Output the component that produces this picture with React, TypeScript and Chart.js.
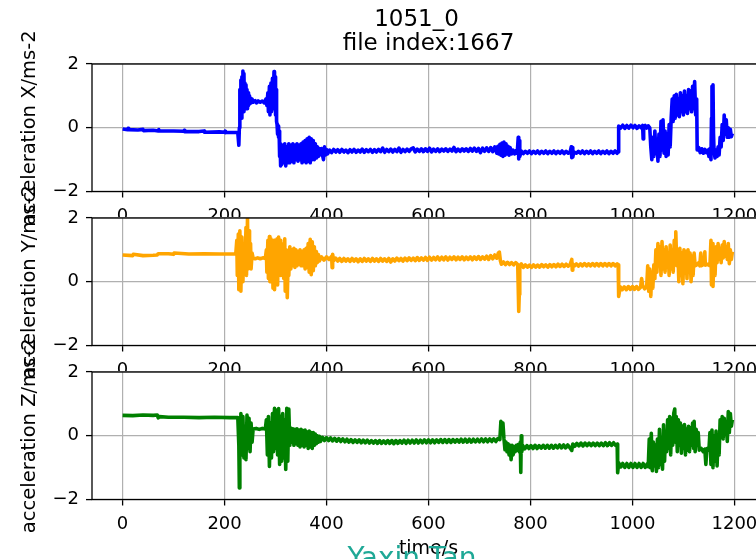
import React, { useEffect, useRef } from 'react';
import { Chart, registerables } from 'chart.js';

Chart.register(...registerables);

// ---------- data ----------
const titleLines = ['1051_0', 'file index:1667'];
const xAxisLabel = 'time/s';
const yAxisLabels = ['acceleration X/ms-2', 'acceleration Y/ms-2', 'acceleration Z/ms-2'];
const xTickValues = [0, 200, 400, 600, 800, 1000, 1200];
const yTickValues = [-2, 0, 2];
const watermark = 'Yaxin Tan';

// [time s, acceleration]
const accelX: [number, number][] = [
  [0, -0.04], [10, -0.06], [11, -0.02], [12, -0.06], [30, -0.07], [40, -0.05], [41, -0.09], [60, -0.08],
  [70, -0.1], [71, -0.06], [72, -0.1], [100, -0.1], [120, -0.11], [121, -0.08], [122, -0.12], [150, -0.12],
  [160, -0.1], [161, -0.14], [190, -0.13], [200, -0.14], [201, -0.11], [202, -0.15], [226, -0.15],
  [228, -0.55], [229, 0.0], [230, 1.2], [231, 0.5], [232, 1.5], [233, 0.3], [234, 1.6], [235, 0.6],
  [236, 1.78], [237, 0.5], [238, 1.7], [239, 0.7], [240, 1.4], [241, 0.6], [242, 1.35], [243, 0.65],
  [244, 1.2], [245, 0.6], [246, 1.1], [247, 0.7], [248, 1.0], [249, 0.75], [250, 0.95], [252, 0.78],
  [254, 0.9], [256, 0.8], [260, 0.85], [263, 0.78], [266, 0.84], [270, 0.8], [274, 0.84], [278, 0.78],
  [281, 0.9], [283, 0.7], [285, 1.1], [286, 0.5], [288, 1.3], [289, 0.4], [291, 1.4], [292, 0.5],
  [294, 1.55], [295, 0.6], [297, 1.76], [298, 0.7], [299, 1.6], [300, 0.4], [301, 1.2], [302, 0.2],
  [303, 0.1], [304, -0.2], [305, 0.05], [306, -0.3], [307, -0.1], [308, -0.9], [309, -0.5], [310, -1.2],
  [311, -0.6], [312, -1.15], [314, -0.55], [316, -1.1], [318, -0.5], [320, -1.2], [322, -0.6], [324, -1.1],
  [326, -0.5], [328, -1.1], [330, -0.55], [332, -1.05], [334, -0.5], [336, -1.1], [338, -0.55], [340, -1.0],
  [342, -0.5], [344, -1.05], [346, -0.55], [348, -1.0], [350, -0.5], [352, -1.1], [354, -0.45], [356, -1.05],
  [358, -0.4], [360, -1.1], [362, -0.35], [364, -1.05], [366, -0.3], [368, -1.1], [370, -0.35], [372, -1.0],
  [374, -0.4], [376, -1.0], [378, -0.5], [380, -0.95], [382, -0.6], [384, -0.9], [386, -0.65], [388, -0.85],
  [390, -0.65], [392, -0.85], [394, -1.0], [396, -0.6], [398, -0.85], [400, -0.68], [402, -0.82], [406, -0.7],
  [410, -0.78], [414, -0.68], [418, -0.76], [422, -0.69], [426, -0.77], [430, -0.68], [434, -0.76], [438, -0.7],
  [442, -0.78], [446, -0.69], [450, -0.76], [454, -0.68], [458, -0.77], [462, -0.7], [466, -0.76], [470, -0.67],
  [474, -0.77], [478, -0.69], [482, -0.75], [486, -0.68], [490, -0.77], [494, -0.69], [498, -0.76], [502, -0.68],
  [506, -0.75], [510, -0.64], [514, -0.77], [518, -0.68], [522, -0.75], [526, -0.67], [530, -0.76], [534, -0.68],
  [538, -0.75], [542, -0.64], [546, -0.77], [550, -0.68], [554, -0.75], [558, -0.67], [562, -0.74], [566, -0.66],
  [570, -0.63], [574, -0.76], [578, -0.67], [582, -0.74], [586, -0.66], [590, -0.75], [594, -0.66], [598, -0.74],
  [602, -0.64], [606, -0.76], [610, -0.67], [614, -0.74], [618, -0.66], [622, -0.75], [626, -0.67], [630, -0.73],
  [634, -0.66], [638, -0.74], [642, -0.67], [646, -0.73], [650, -0.62], [654, -0.75], [658, -0.67], [662, -0.74],
  [666, -0.66], [670, -0.73], [674, -0.66], [678, -0.74], [682, -0.65], [686, -0.73], [690, -0.64], [694, -0.74],
  [698, -0.65], [702, -0.78], [706, -0.64], [710, -0.74], [714, -0.63], [718, -0.74], [722, -0.62], [726, -0.75],
  [730, -0.6], [734, -0.8], [736, -0.58], [738, -0.82], [740, -0.52], [742, -0.86], [744, -0.48], [746, -0.9],
  [748, -0.45], [750, -0.86], [752, -0.5], [754, -0.82], [756, -0.58], [758, -0.86], [760, -0.62], [763, -0.82],
  [766, -0.7], [769, -0.82], [772, -0.72], [774, -0.8], [776, -0.3], [777, -0.98], [778, -0.4], [779, -0.9],
  [782, -0.73], [786, -0.81], [790, -0.74], [794, -0.8], [798, -0.73], [802, -0.81], [806, -0.74], [810, -0.8],
  [814, -0.73], [818, -0.81], [822, -0.74], [826, -0.8], [830, -0.73], [834, -0.81], [838, -0.74], [842, -0.8],
  [846, -0.73], [850, -0.81], [854, -0.74], [858, -0.8], [862, -0.73], [866, -0.81], [870, -0.74], [874, -0.8],
  [878, -0.75], [880, -0.6], [881, -0.94], [882, -0.62], [883, -0.92], [885, -0.76], [890, -0.8], [894, -0.74],
  [898, -0.8], [902, -0.73], [906, -0.81], [910, -0.74], [914, -0.8], [918, -0.73], [922, -0.81], [926, -0.74],
  [930, -0.8], [934, -0.73], [938, -0.81], [942, -0.74], [946, -0.8], [950, -0.73], [954, -0.81], [958, -0.74],
  [962, -0.8], [966, -0.73], [970, -0.8], [972, -0.76], [973, 0.05], [977, -0.01], [981, 0.08], [985, -0.02],
  [989, 0.07], [993, -0.01], [997, 0.08], [1001, 0.0], [1005, 0.07], [1009, -0.02], [1013, 0.06], [1017, 0.0],
  [1020, 0.07], [1021, -0.35], [1022, 0.02], [1025, 0.07], [1028, -0.01], [1031, 0.06], [1034, 0.0],
  [1036, -0.6], [1038, -1.0], [1040, -0.3], [1042, -0.9], [1044, -0.1], [1046, -0.8], [1048, -0.4], [1050, -1.05],
  [1052, -0.2], [1054, -0.9], [1056, 0.2], [1058, -0.7], [1060, 0.25], [1062, -0.8], [1064, -0.1], [1066, -0.9],
  [1068, -0.2], [1070, -0.85], [1072, 0.1], [1074, -0.6], [1076, 0.3], [1078, 0.9], [1080, 0.2], [1082, 1.0],
  [1084, 0.3], [1086, 1.05], [1088, 0.4], [1090, 0.9], [1092, 0.35], [1094, 1.1], [1096, 0.5], [1098, 1.0],
  [1100, 0.4], [1102, 1.15], [1104, 0.5], [1106, 1.0], [1108, 0.45], [1110, 1.2], [1112, 0.6], [1114, 1.15],
  [1116, 0.5], [1118, 1.3], [1120, 0.6], [1122, 1.45], [1124, 0.4], [1126, 0.9], [1127, -0.7], [1130, -0.62],
  [1133, -0.78], [1136, -0.66], [1139, -0.8], [1142, -0.68], [1145, -0.78], [1148, -0.7], [1150, -0.9], [1152, -0.65],
  [1154, -1.0], [1155, 0.3], [1156, 1.3], [1157, 0.5], [1158, 1.35], [1159, -0.2], [1160, -0.7], [1162, -0.95],
  [1164, -0.7], [1166, -0.9], [1168, -0.6], [1170, -0.85], [1172, -0.3], [1174, -0.6], [1176, 0.1], [1178, -0.4],
  [1180, 0.4], [1182, -0.2], [1184, 0.25], [1186, -0.3], [1188, 0.0], [1190, -0.3], [1192, -0.05], [1194, -0.28],
  [1196, -0.18],
];

const accelY: [number, number][] = [
  [0, 0.84], [20, 0.82], [21, 0.86], [40, 0.82], [60, 0.83], [68, 0.84], [70, 0.88], [90, 0.88],
  [100, 0.86], [101, 0.9], [130, 0.87], [160, 0.88], [190, 0.87], [222, 0.87],
  [224, 1.3], [225, 0.2], [227, 1.5], [228, -0.25], [230, 1.6], [232, -0.3], [234, 1.4], [236, 0.0],
  [238, 1.2], [240, 0.3], [242, 1.7], [243, 0.2], [245, 1.99], [246, 0.4], [248, 1.6], [249, 0.5],
  [251, 1.2], [252, 0.4], [254, 0.9], [256, 0.74], [260, 0.72], [265, 0.75], [270, 0.72], [275, 0.75],
  [280, 0.73], [282, 1.0], [283, 0.3], [285, 1.3], [286, 0.1], [288, 1.42], [289, 0.0], [291, 1.35],
  [292, 0.3], [294, 1.2], [295, -0.2], [297, 1.3], [298, -0.25], [300, 1.1], [301, 0.2], [303, 1.35],
  [304, -0.1], [306, 1.4], [307, 0.3], [309, 1.3], [310, 0.2], [312, 1.2], [313, 0.4], [315, 1.1],
  [316, 0.1], [318, 1.35], [319, -0.3], [321, 1.0], [323, -0.5], [325, 0.9], [326, 0.2], [328, 1.1],
  [330, 0.4], [332, 1.0], [334, 0.5], [336, 1.05], [338, 0.45], [340, 1.0], [342, 0.5], [344, 0.95],
  [346, 0.55], [348, 1.0], [350, 0.5], [352, 0.95], [354, 0.5], [356, 1.0], [358, 0.4], [360, 1.05],
  [362, 0.45], [364, 1.2], [366, 0.3], [368, 1.33], [370, 0.22], [372, 1.25], [374, 0.35], [376, 1.1],
  [378, 0.5], [380, 0.95], [382, 0.6], [384, 0.85], [386, 0.65], [390, 0.78], [395, 0.68], [400, 0.78],
  [405, 0.7], [410, 0.8], [411, 0.44], [412, 0.86], [414, 0.66], [418, 0.74], [422, 0.65], [426, 0.73],
  [430, 0.64], [434, 0.73], [438, 0.65], [442, 0.72], [446, 0.64], [450, 0.73], [454, 0.65], [458, 0.72],
  [462, 0.63], [466, 0.72], [470, 0.64], [474, 0.73], [478, 0.65], [482, 0.72], [486, 0.64], [490, 0.73],
  [494, 0.65], [498, 0.72], [502, 0.64], [506, 0.73], [510, 0.65], [514, 0.72], [518, 0.64], [522, 0.73],
  [526, 0.62], [530, 0.72], [534, 0.65], [538, 0.74], [542, 0.66], [546, 0.73], [550, 0.65], [554, 0.74],
  [558, 0.66], [562, 0.75], [566, 0.67], [570, 0.74], [574, 0.66], [578, 0.76], [582, 0.67], [586, 0.75],
  [590, 0.68], [594, 0.76], [598, 0.67], [602, 0.77], [606, 0.68], [610, 0.76], [614, 0.69], [618, 0.78],
  [622, 0.68], [626, 0.77], [630, 0.69], [634, 0.78], [638, 0.68], [642, 0.77], [646, 0.7], [650, 0.78],
  [654, 0.69], [658, 0.77], [662, 0.7], [666, 0.78], [670, 0.69], [674, 0.77], [678, 0.7], [682, 0.78],
  [686, 0.69], [690, 0.78], [694, 0.7], [698, 0.79], [702, 0.7], [706, 0.78], [710, 0.71], [714, 0.8],
  [718, 0.7], [722, 0.82], [726, 0.72], [730, 0.84], [734, 0.74], [737, 0.9], [739, 0.93], [741, 0.66],
  [743, 0.55], [747, 0.62], [751, 0.54], [755, 0.61], [759, 0.54], [763, 0.6], [767, 0.53], [771, 0.6],
  [775, 0.54], [777, -0.93], [778, -0.4], [779, 0.5], [782, 0.56], [786, 0.45], [790, 0.53], [794, 0.46],
  [798, 0.52], [802, 0.45], [806, 0.53], [810, 0.46], [814, 0.52], [818, 0.46], [822, 0.54], [826, 0.47],
  [830, 0.53], [834, 0.46], [838, 0.54], [842, 0.47], [846, 0.54], [850, 0.47], [854, 0.55], [858, 0.48],
  [862, 0.55], [866, 0.48], [870, 0.55], [874, 0.49], [878, 0.55], [881, 0.7], [882, 0.36], [883, 0.56],
  [886, 0.49], [890, 0.56], [894, 0.49], [898, 0.56], [902, 0.5], [906, 0.57], [910, 0.5], [914, 0.56],
  [918, 0.5], [922, 0.57], [926, 0.5], [930, 0.57], [934, 0.5], [938, 0.57], [942, 0.5], [946, 0.57],
  [950, 0.5], [954, 0.57], [958, 0.5], [962, 0.57], [966, 0.5], [970, 0.56], [972, 0.53], [973, -0.46],
  [976, -0.16], [980, -0.25], [984, -0.16], [988, -0.25], [992, -0.15], [996, -0.24], [1000, -0.15], [1004, -0.24],
  [1008, -0.15], [1012, -0.24], [1016, -0.17], [1018, 0.1], [1020, -0.12], [1024, -0.22], [1028, -0.15],
  [1030, 0.5], [1032, -0.3], [1034, 0.4], [1036, -0.46], [1038, 0.3], [1040, -0.2], [1042, 0.53], [1044, 0.1],
  [1046, 1.0], [1048, 0.3], [1050, 1.2], [1052, 0.5], [1054, 1.1], [1056, 0.2], [1058, 1.26], [1060, 0.4],
  [1062, 1.0], [1064, 0.3], [1066, 1.1], [1068, 0.5], [1070, 0.9], [1072, 0.2], [1074, 1.15], [1076, 0.4],
  [1078, 1.0], [1080, 0.3], [1082, 1.3], [1084, 0.6], [1085, 1.57], [1087, 0.5], [1089, 1.0], [1091, 0.0],
  [1093, 1.05], [1095, 0.2], [1097, 0.9], [1099, -0.06], [1101, 1.0], [1103, 0.3], [1105, 0.95], [1107, 0.1],
  [1109, 1.0], [1111, 0.4], [1113, 0.9], [1115, 0.0], [1117, 0.8], [1119, 0.2], [1121, 0.9], [1123, 0.5],
  [1126, 0.53], [1130, 0.6], [1132, 0.5], [1134, 0.9], [1135, 0.5], [1140, 0.55], [1142, 0.94], [1143, 0.52],
  [1148, 0.55], [1152, 0.5], [1154, 1.3], [1155, -0.1], [1157, 1.2], [1158, -0.15], [1160, 0.9], [1162, 0.2],
  [1164, 1.1], [1166, 0.6], [1168, 1.2], [1170, 0.7], [1172, 1.05], [1174, 0.6], [1176, 1.15], [1178, 0.75],
  [1180, 1.26], [1182, 0.8], [1184, 1.1], [1186, 0.7], [1188, 1.2], [1190, 0.57], [1192, 1.0], [1194, 0.7],
  [1196, 0.94],
];

const accelZ: [number, number][] = [
  [0, 0.64], [20, 0.63], [40, 0.65], [60, 0.64], [68, 0.65], [70, 0.56], [72, 0.6], [90, 0.58],
  [120, 0.58], [150, 0.57], [180, 0.58], [210, 0.57], [226, 0.57], [228, -0.3], [229, -1.64], [230, 0.0],
  [231, -0.6], [232, 0.7], [234, -0.5], [236, 0.6], [238, -0.7], [240, 0.3], [242, -0.75], [244, 0.65],
  [246, -0.4], [248, 0.55], [250, -0.5], [252, 0.4], [254, -0.2], [256, 0.21], [262, 0.23], [268, 0.2],
  [274, 0.23], [280, 0.21], [282, 0.5], [284, -0.6], [286, 0.6], [288, -0.96], [290, 0.4], [292, -0.7],
  [294, 0.7], [296, -0.5], [298, 0.86], [300, -0.4], [302, 0.8], [304, -0.6], [306, 0.85], [308, -0.9],
  [310, 0.6], [312, -0.8], [314, 0.7], [316, -0.7], [318, 0.5], [320, -1.06], [322, 0.86], [324, -0.8],
  [326, 0.84], [328, -0.3], [330, 0.24], [332, -0.2], [334, 0.22], [336, -0.3], [338, 0.2], [340, -0.25],
  [342, 0.22], [344, -0.3], [346, 0.18], [348, -0.35], [350, 0.2], [352, -0.3], [354, 0.16], [356, -0.35],
  [358, 0.18], [360, -0.3], [362, 0.12], [364, -0.4], [366, 0.15], [368, -0.35], [370, 0.1], [372, -0.4],
  [374, 0.1], [376, -0.3], [378, 0.05], [380, -0.25], [382, 0.0], [384, -0.2], [386, -0.02], [388, -0.18],
  [392, -0.05], [396, -0.15], [400, -0.06], [404, -0.15], [408, -0.07], [412, -0.16], [416, -0.08], [420, -0.17],
  [424, -0.09], [428, -0.18], [432, -0.1], [436, -0.19], [440, -0.11], [444, -0.2], [448, -0.12], [452, -0.21],
  [456, -0.13], [460, -0.21], [464, -0.13], [468, -0.22], [472, -0.14], [476, -0.22], [480, -0.14], [484, -0.23],
  [488, -0.15], [492, -0.23], [496, -0.15], [500, -0.24], [504, -0.15], [508, -0.24], [512, -0.16], [516, -0.24],
  [520, -0.15], [524, -0.24], [528, -0.15], [532, -0.25], [536, -0.15], [540, -0.24], [544, -0.15], [548, -0.23],
  [552, -0.14], [556, -0.24], [560, -0.14], [564, -0.23], [568, -0.14], [572, -0.23], [576, -0.13], [580, -0.23],
  [584, -0.14], [588, -0.22], [592, -0.13], [596, -0.22], [600, -0.13], [604, -0.22], [608, -0.13], [612, -0.22],
  [616, -0.13], [620, -0.21], [624, -0.12], [628, -0.21], [632, -0.12], [636, -0.21], [640, -0.12], [644, -0.21],
  [648, -0.12], [652, -0.2], [656, -0.12], [660, -0.2], [664, -0.11], [668, -0.2], [672, -0.11], [676, -0.2],
  [680, -0.11], [684, -0.2], [688, -0.11], [692, -0.19], [696, -0.11], [700, -0.19], [704, -0.1], [708, -0.19],
  [712, -0.1], [716, -0.19], [720, -0.1], [724, -0.18], [728, -0.1], [732, -0.18], [736, -0.09], [740, -0.12],
  [742, 0.45], [744, 0.2], [746, 0.4], [748, -0.1], [750, -0.44], [752, -0.2], [754, -0.5], [756, -0.25],
  [758, -0.6], [760, -0.3], [762, -0.75], [764, -0.3], [766, -0.6], [768, -0.35], [770, -0.5], [772, -0.3],
  [774, -0.45], [776, -0.28], [778, -0.5], [780, -0.2], [781, -1.15], [782, 0.0], [783, -0.5], [785, -0.31],
  [789, -0.41], [793, -0.31], [797, -0.4], [801, -0.31], [805, -0.4], [809, -0.3], [813, -0.4], [817, -0.31],
  [821, -0.39], [825, -0.3], [829, -0.39], [833, -0.3], [837, -0.39], [841, -0.3], [845, -0.39], [849, -0.3],
  [853, -0.38], [857, -0.29], [861, -0.38], [865, -0.29], [869, -0.38], [873, -0.29], [877, -0.37], [881, -0.46],
  [883, -0.26], [887, -0.33], [891, -0.24], [895, -0.32], [899, -0.23], [903, -0.32], [907, -0.23], [911, -0.31],
  [915, -0.23], [919, -0.31], [923, -0.23], [927, -0.31], [931, -0.23], [935, -0.31], [939, -0.23], [943, -0.31],
  [947, -0.22], [951, -0.31], [955, -0.22], [959, -0.3], [963, -0.22], [967, -0.3], [970, -0.26], [971, -1.16],
  [973, -0.85], [977, -0.98], [981, -0.87], [985, -0.99], [989, -0.87], [993, -0.99], [997, -0.87], [1001, -0.99],
  [1005, -0.87], [1009, -0.99], [1013, -0.87], [1017, -0.99], [1021, -0.87], [1025, -0.99], [1029, -0.88], [1031, -0.97],
  [1033, -0.1], [1035, -1.0], [1037, 0.08], [1039, -1.1], [1041, -0.2], [1043, -0.95], [1045, -0.3], [1047, -1.12],
  [1049, -0.1], [1051, -1.0], [1053, 0.2], [1055, -0.9], [1057, -0.15], [1059, -1.05], [1061, 0.34], [1063, -0.8],
  [1065, 0.1], [1067, -0.5], [1069, 0.5], [1071, -0.4], [1073, 0.6], [1075, -0.6], [1077, 0.55], [1079, -0.3],
  [1081, 0.7], [1083, 0.84], [1084, -0.2], [1086, 0.6], [1088, -0.5], [1090, 0.5], [1092, -0.3], [1094, 0.4],
  [1096, -0.55], [1098, 0.3], [1100, -0.4], [1102, 0.35], [1104, -0.6], [1106, 0.2], [1108, -0.45], [1110, 0.3],
  [1112, -0.5], [1114, 0.25], [1116, -0.3], [1118, 0.4], [1120, -0.4], [1121, 0.45], [1123, -0.5], [1125, 0.2],
  [1127, -0.3], [1129, 0.1], [1131, -0.45], [1135, -0.4], [1139, -0.5], [1142, -0.42], [1144, -0.9], [1146, -0.4],
  [1150, -0.45], [1152, 0.1], [1154, -0.9], [1156, 0.18], [1158, -1.0], [1160, 0.0], [1162, -0.8], [1164, 0.15],
  [1166, -0.95], [1168, -0.1], [1170, -0.6], [1172, 0.5], [1174, 0.0], [1176, 0.6], [1178, -0.1], [1180, 0.55],
  [1182, 0.05], [1184, 0.4], [1186, -0.18], [1188, 0.76], [1190, 0.1], [1192, 0.7], [1194, 0.3], [1196, 0.5],
];

const seriesList = [accelX, accelY, accelZ];

// ---------- layout / style ----------
const FONT = '"DejaVu Sans", "Liberation Sans", sans-serif';
const CW = 800;
const CH = 559;
const AREA_LEFT = 92;
const AREA_RIGHT = 765;
const panelStyles = [
  { top: 64, bottom: 191.5, xh: 40, color: '#0000ff', showXTitle: false },
  { top: 218, bottom: 345.5, xh: 40, color: '#ffa500', showXTitle: false },
  { top: 372, bottom: 499.5, xh: 59.5, color: '#008000', showXTitle: true },
];

const fmt = (v: number | string) => {
  const n = Number(v);
  return n < 0 ? '\u2212' + Math.abs(n) : String(n);
};

const bgPlugin = {
  id: 'areaBg',
  beforeDraw(chart: any) {
    const { ctx, chartArea: a } = chart;
    ctx.save();
    ctx.fillStyle = '#ffffff';
    ctx.fillRect(a.left, a.top, a.right - a.left, a.bottom - a.top);
    ctx.restore();
  },
};

const framePlugin = {
  id: 'frame',
  afterDatasetsDraw(chart: any) {
    const { ctx, chartArea: a } = chart;
    ctx.save();
    ctx.strokeStyle = '#000';
    ctx.lineWidth = 1.3;
    ctx.strokeRect(a.left, a.top, a.right - a.left, a.bottom - a.top);
    ctx.restore();
  },
};

const titlePlugin = {
  id: 'figTitle',
  afterDraw(chart: any) {
    const { ctx, chartArea: a } = chart;
    const cx = (a.left + a.right) / 2;
    ctx.save();
    ctx.fillStyle = '#000';
    ctx.font = `23px ${FONT}`;
    ctx.textAlign = 'center';
    ctx.textBaseline = 'middle';
    ctx.fillText(titleLines[0], cx - 12, 20);
    ctx.fillText(titleLines[1], cx, 44);
    ctx.restore();
  },
};

const watermarkPlugin = {
  id: 'watermark',
  afterDraw(chart: any) {
    const { ctx } = chart;
    ctx.save();
    ctx.fillStyle = '#1fa896';
    ctx.font = `28px ${FONT}`;
    ctx.textAlign = 'center';
    ctx.textBaseline = 'alphabetic';
    ctx.fillText(watermark, 412, 567);
    ctx.restore();
  },
};

function Panel({ index }: { index: number }) {
  const ref = useRef<HTMLCanvasElement | null>(null);
  useEffect(() => {
    const canvas = ref.current;
    if (!canvas) return;
    const p = panelStyles[index];
    const extra: any[] = [bgPlugin, framePlugin];
    if (index === 0) extra.push(titlePlugin);
    if (index === 2) extra.push(watermarkPlugin);
    const chart = new Chart(canvas, {
      type: 'line',
      data: {
        datasets: [
          {
            data: seriesList[index].map(([x, y]) => ({ x, y })),
            borderColor: p.color,
            backgroundColor: p.color,
            borderWidth: 3.6,
            pointRadius: 0,
            tension: 0,
            fill: false,
            borderJoinStyle: 'round',
            borderCapStyle: 'butt',
          } as any,
        ],
      },
      options: {
        responsive: false,
        animation: false,
        devicePixelRatio: 1,
        events: [],
        layout: {
          padding: { left: 0, right: CW - AREA_RIGHT, top: p.top, bottom: CH - p.bottom - p.xh },
        },
        plugins: { legend: { display: false }, tooltip: { enabled: false }, title: { display: false } },
        scales: {
          x: {
            type: 'linear',
            min: -60,
            max: 1260,
            afterBuildTicks: (s: any) => {
              s.ticks = xTickValues.map((v) => ({ value: v }));
            },
            afterFit: (s: any) => {
              s.height = p.xh;
            },
            grid: { color: '#b0b0b0', lineWidth: 1.2, tickLength: 6, tickColor: '#000', tickWidth: 1.3 },
            border: { display: false },
            ticks: {
              color: '#000',
              font: { family: FONT, size: 18 },
              padding: 8,
              maxRotation: 0,
              autoSkip: false,
              callback: (v: any) => fmt(v),
            },
            title: {
              display: p.showXTitle,
              text: xAxisLabel,
              color: '#000',
              font: { family: FONT, size: 19, lineHeight: 1.0 },
              padding: { top: 0, bottom: 0 },
            },
          },
          y: {
            min: -2,
            max: 2,
            afterBuildTicks: (s: any) => {
              s.ticks = yTickValues.map((v) => ({ value: v }));
            },
            afterFit: (s: any) => {
              s.width = AREA_LEFT;
            },
            grid: { color: '#b0b0b0', lineWidth: 1.2, tickLength: 6, tickColor: '#000', tickWidth: 1.3 },
            border: { display: false },
            ticks: {
              color: '#000',
              font: { family: FONT, size: 18 },
              padding: 7,
              autoSkip: false,
              callback: (v: any) => fmt(v),
            },
            title: {
              display: true,
              text: yAxisLabels[index],
              color: '#000',
              font: { family: FONT, size: 19.5 },
              padding: { top: 18, bottom: 0 },
            },
          },
        },
      } as any,
      plugins: extra,
    });
    return () => chart.destroy();
  }, [index]);
  return (
    <canvas
      ref={ref}
      width={CW}
      height={CH}
      style={{ position: 'absolute', left: 0, top: 0, width: CW, height: CH, zIndex: index + 1 }}
    />
  );
}

export default function App() {
  return (
    <div
      style={{
        position: 'fixed',
        left: 0,
        top: 0,
        width: 756,
        height: 559,
        overflow: 'hidden',
        background: '#ffffff',
      }}
    >
      {panelStyles.map((_, i) => (
        <Panel key={i} index={i} />
      ))}
    </div>
  );
}
